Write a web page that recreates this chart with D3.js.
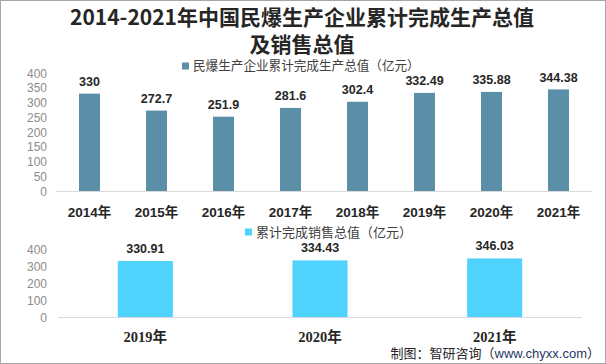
<!DOCTYPE html>
<html><head><meta charset="utf-8">
<script src="https://cdn.jsdelivr.net/npm/d3@7"></script>
<style>body{margin:0;background:#fff}svg{display:block}</style>
</head><body>
<script>
const years1 = ["2014年","2015年","2016年","2017年","2018年","2019年","2020年","2021年"];
const prodValues = [330, 272.7, 251.9, 281.6, 302.4, 332.49, 335.88, 344.38];
const prodLabels = ["330","272.7","251.9","281.6","302.4","332.49","335.88","344.38"];
const yTicks1 = [0,50,100,150,200,250,300,350,400];
const years2 = ["2019年","2020年","2021年"];
const salesValues = [330.91, 334.43, 346.03];
const salesLabels = ["330.91","334.43","346.03"];
const yTicks2 = [0,100,200,300,400];
const title1 = "2014-2021年中国民爆生产企业累计完成生产总值";
const title2 = "及销售总值";
const legend1 = "民爆生产企业累计完成生产总值（亿元）";
const legend2 = "累计完成销售总值（亿元）";

const W = 606, H = 364;
const sans = "'Liberation Sans','Noto Sans CJK SC',sans-serif";
const cjk = "'Noto Sans CJK SC',sans-serif";
const svg = d3.select("body").append("svg").attr("width", W).attr("height", H);
svg.append("rect").attr("x",0.5).attr("y",0.5).attr("width",W-1).attr("height",H-1)
  .attr("fill","#fff").attr("stroke","#a6a6a6");

// title
svg.append("text").attr("x",302).attr("y",25).attr("text-anchor","middle")
  .attr("font-family",cjk).attr("font-weight","bold").attr("font-size",21).attr("fill","#262626").text(title1);
svg.append("text").attr("x",302).attr("y",52).attr("text-anchor","middle")
  .attr("font-family",cjk).attr("font-weight","bold").attr("font-size",21).attr("fill","#262626").text(title2);

function drawChart(cfg){
  const x = d3.scaleBand().domain(cfg.cats).range(cfg.xr).paddingInner(cfg.pad).paddingOuter(cfg.pad/2);
  const y = d3.scaleLinear().domain([0,400]).range(cfg.yr);
  const g = svg.append("g");
  const ya = d3.axisLeft(y).tickValues(cfg.ticks).tickSize(0).tickPadding(0);
  const yg = g.append("g").attr("transform",`translate(${cfg.tickX},0)`).call(ya);
  yg.select(".domain").remove();
  yg.selectAll("text").attr("font-family",sans).attr("font-size",12).attr("fill","#8c8c8c").attr("dy","0.35em");
  g.append("line").attr("x1",cfg.xr[0]).attr("x2",cfg.xr[1]).attr("y1",y(0)+0.5).attr("y2",y(0)+0.5)
    .attr("stroke","#d9d9d9").attr("stroke-width",1);
  g.selectAll("rect.bar").data(cfg.vals).join("rect")
    .attr("x",(d,i)=>x(cfg.cats[i])).attr("width",x.bandwidth())
    .attr("y",d=>y(d)).attr("height",d=>y(0)-y(d)).attr("fill",cfg.color);
  g.selectAll("text.val").data(cfg.vals).join("text")
    .attr("x",(d,i)=>x(cfg.cats[i])+x.bandwidth()/2).attr("y",d=>y(d)-cfg.labOff)
    .attr("text-anchor","middle").attr("font-family",sans).attr("font-weight","bold")
    .attr("font-size",12.5).attr("fill","#262626").text((d,i)=>cfg.labels[i]);
  const xa = d3.axisBottom(x).tickSize(0).tickPadding(0);
  const xg = g.append("g").attr("transform",`translate(0,${cfg.xLabY})`).call(xa);
  xg.select(".domain").remove();
  xg.selectAll("text").attr("font-family",cfg.xFont).attr("font-weight","bold").attr("font-size",cfg.xSize)
    .attr("fill","#262626").attr("dy","0.35em");
  g.append("rect").attr("x",cfg.legX).attr("y",cfg.legY-3.5).attr("width",7).attr("height",7).attr("fill",cfg.color);
  g.append("text").attr("x",cfg.legX+11).attr("y",cfg.legY).attr("dy","0.35em")
    .attr("font-family",cjk).attr("font-size",cfg.legSize).attr("fill","#404040").text(cfg.legend);
}

drawChart({cats:years1, vals:prodValues, labels:prodLabels, ticks:yTicks1, xr:[56,592], yr:[191,73],
  pad:0.687, color:"#5b8fa8", tickX:47, labOff:7.5, xLabY:212, xFont:sans, xSize:13.5,
  legX:182, legY:66, legSize:12.6, legend:legend1});

drawChart({cats:years2, vals:salesValues, labels:salesLabels, ticks:yTicks2, xr:[58,582], yr:[317,249.3],
  pad:0.685, color:"#4fd3fd", tickX:47, labOff:8, xLabY:337, xFont:"'Liberation Serif','Noto Sans CJK SC',serif", xSize:14.5,
  legX:245, legY:232, legSize:13, legend:legend2});

const src = svg.append("text").attr("x",600).attr("y",353).attr("dy","0.35em").attr("text-anchor","end")
  .attr("font-family",cjk).attr("font-size",13).attr("fill","#262626");
src.append("tspan").text("制图：智研咨询（");
src.append("tspan").attr("font-family",sans).attr("fill","#1f3864").text("www.chyxx.com");
src.append("tspan").text("）");
</script>
</body></html>
